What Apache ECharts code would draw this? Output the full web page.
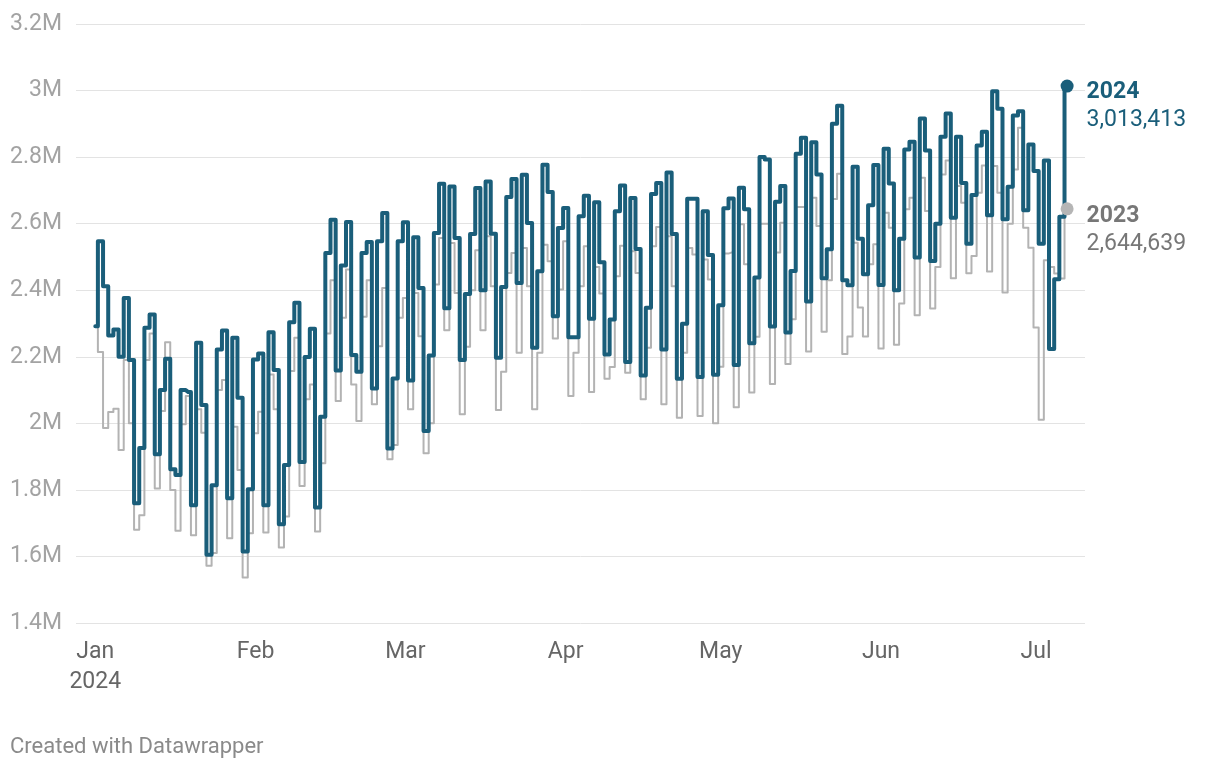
<!DOCTYPE html>
<html>
<head>
<meta charset="utf-8">
<script src="https://cdn.jsdelivr.net/npm/echarts@6/dist/echarts.min.js"></script>
<style>
  html, body { margin: 0; padding: 0; background: #fff; }
  #chart { width: 1220px; height: 770px; }
</style>
</head>
<body>
<div id="chart"></div>
<script>
// Daily checkpoint numbers, in millions, Jan 1 – Jul 7 2024 (2023 aligned by weekday)
const jan2024 = [2.292, 2.547, 2.412, 2.264, 2.282, 2.200, 2.377, 2.190, 1.760, 1.926, 2.287, 2.327, 1.907, 2.100, 2.194, 1.862, 1.845, 2.100, 2.094, 1.754, 2.242, 2.055, 1.605, 1.814, 2.222, 2.279, 1.775, 2.257, 2.077, 1.615, 1.802];
const feb2024 = [2.192, 2.210, 1.754, 2.274, 2.160, 1.697, 1.875, 2.304, 2.362, 1.884, 2.199, 2.284, 1.747, 2.020, 2.512, 2.612, 2.159, 2.474, 2.605, 2.205, 2.155, 2.512, 2.545, 2.105, 2.547, 2.632, 1.924, 2.135, 2.547];
const mar2024 = [2.604, 2.129, 2.559, 2.407, 1.977, 2.204, 2.572, 2.720, 2.346, 2.712, 2.557, 2.190, 2.389, 2.569, 2.707, 2.400, 2.727, 2.570, 2.197, 2.410, 2.680, 2.734, 2.422, 2.747, 2.602, 2.227, 2.457, 2.777, 2.695, 2.322, 2.587];
const apr2024 = [2.647, 2.259, 2.259, 2.622, 2.684, 2.314, 2.664, 2.484, 2.207, 2.312, 2.637, 2.715, 2.184, 2.677, 2.524, 2.144, 2.347, 2.689, 2.722, 2.222, 2.754, 2.569, 2.134, 2.299, 2.675, 2.675, 2.139, 2.637, 2.506, 2.146];
const may2024 = [2.355, 2.646, 2.676, 2.175, 2.708, 2.643, 2.241, 2.438, 2.800, 2.793, 2.291, 2.666, 2.713, 2.273, 2.458, 2.810, 2.858, 2.366, 2.845, 2.748, 2.436, 2.523, 2.900, 2.954, 2.430, 2.415, 2.771, 2.555, 2.448, 2.655, 2.776];
const jun2024 = [2.416, 2.825, 2.721, 2.400, 2.555, 2.823, 2.846, 2.498, 2.916, 2.820, 2.488, 2.600, 2.861, 2.931, 2.618, 2.861, 2.722, 2.540, 2.686, 2.835, 2.876, 2.625, 2.998, 2.945, 2.613, 2.711, 2.925, 2.938, 2.640, 2.838];
const jul2024 = [2.758, 2.540, 2.790, 2.223, 2.433, 2.621, 3.013413];

const jan2023 = [2.29, 2.214, 1.986, 2.034, 2.044, 1.92, 2.19, 2.0, 1.68, 1.724, 2.19, 2.27, 1.804, 2.037, 2.244, 1.80, 1.677, 1.997, 2.082, 1.664, 2.042, 1.972, 1.572, 1.61, 2.10, 2.13, 1.655, 1.99, 1.86, 1.537, 1.67];
const feb2023 = [1.97, 2.035, 1.672, 2.147, 2.042, 1.627, 1.72, 2.157, 2.257, 1.812, 2.072, 2.117, 1.675, 1.88, 2.27, 2.43, 2.067, 2.317, 2.462, 2.117, 2.007, 2.32, 2.43, 2.057, 2.232, 2.407, 1.892, 1.935, 2.317];
const mar2023 = [2.377, 2.042, 2.392, 2.262, 1.91, 2.0, 2.417, 2.557, 2.28, 2.542, 2.392, 2.027, 2.23, 2.40, 2.52, 2.28, 2.562, 2.412, 2.04, 2.155, 2.452, 2.512, 2.212, 2.527, 2.412, 2.042, 2.212, 2.537, 2.487, 2.255, 2.402];
const apr2023 = [2.547, 2.082, 2.212, 2.412, 2.532, 2.094, 2.47, 2.39, 2.134, 2.169, 2.442, 2.534, 2.152, 2.517, 2.452, 2.072, 2.227, 2.532, 2.59, 2.057, 2.562, 2.412, 2.017, 2.212, 2.527, 2.507, 2.022, 2.492, 2.432, 2.0];
const may2023 = [2.17, 2.51, 2.513, 2.048, 2.598, 2.478, 2.093, 2.26, 2.60, 2.60, 2.118, 2.513, 2.603, 2.178, 2.313, 2.65, 2.65, 2.216, 2.678, 2.593, 2.275, 2.43, 2.674, 2.75, 2.208, 2.261, 2.543, 2.348, 2.261, 2.478, 2.538];
const jun2023 = [2.225, 2.633, 2.588, 2.236, 2.36, 2.643, 2.678, 2.325, 2.738, 2.638, 2.345, 2.47, 2.748, 2.79, 2.436, 2.713, 2.663, 2.451, 2.503, 2.693, 2.775, 2.456, 2.773, 2.693, 2.393, 2.60, 2.763, 2.888, 2.588, 2.528];
const jul2023 = [2.288, 2.011, 2.49, 2.47, 2.45, 2.435, 2.644639];

const monthTicks = [0, 31, 60, 91, 121, 152, 182];
const monthLabels = ['Jan\n2024', 'Feb', 'Mar', 'Apr', 'May', 'Jun', 'Jul'];
const seriesNames = ['2024', '2023'];

const s2024 = [].concat(jan2024, feb2024, mar2024, apr2024, may2024, jun2024, jul2024).map(v => Math.round(v * 1e6));
const s2023 = [].concat(jan2023, feb2023, mar2023, apr2023, may2023, jun2023, jul2023).map(v => Math.round(v * 1e6));

const BLUE = '#1a5e7a';
const GREY_LINE = '#b3b3b3';
const GREY_DOT = '#b5b5b5';
const GREY_TEXT = '#777777';
const FONT = 'Roboto, "Noto Sans", sans-serif';

const toPairs = arr => arr.map((v, i) => [i, v]);
const last = arr => [arr.length - 1, arr[arr.length - 1]];
const fmt = n => n.toLocaleString('en-US');

const chart = echarts.init(document.getElementById('chart'), null, { renderer: 'canvas' });
chart.setOption({
  animation: false,
  backgroundColor: '#ffffff',
  textStyle: { fontFamily: FONT },
  grid: { left: 76, right: 135, top: 24, bottom: 147, containLabel: false },
  xAxis: {
    type: 'value',
    min: -3.733,
    max: 191.462,
    axisLine: { show: false },
    axisTick: { show: false },
    splitLine: { show: false },
    axisLabel: {
      customValues: monthTicks,
      formatter: v => monthLabels[monthTicks.indexOf(Math.round(v))] || '',
      color: '#666666',
      fontSize: 23,
      lineHeight: 30,
      margin: 14,
      fontFamily: FONT
    }
  },
  yAxis: {
    type: 'value',
    min: 1400000,
    max: 3200000,
    interval: 200000,
    axisLine: { show: false },
    axisTick: { show: false },
    splitLine: { lineStyle: { color: '#e3e3e3', width: 1 } },
    axisLabel: {
      formatter: v => (Math.round(v / 1e5) / 10) + 'M',
      color: '#a3a3a3',
      fontSize: 23,
      margin: 14,
      fontFamily: FONT
    }
  },
  series: [
    {
      name: seriesNames[1],
      type: 'line',
      step: 'middle',
      data: toPairs(s2023),
      showSymbol: false,
      lineStyle: { color: GREY_LINE, width: 2, join: 'round' },
      z: 2,
      silent: true
    },
    {
      name: seriesNames[0],
      type: 'line',
      step: 'middle',
      data: toPairs(s2024),
      showSymbol: false,
      lineStyle: { color: BLUE, width: 4, join: 'round', cap: 'round' },
      z: 3,
      silent: true
    },
    {
      type: 'scatter',
      data: [last(s2023)],
      symbol: 'circle',
      symbolSize: 13,
      itemStyle: { color: GREY_DOT, opacity: 1 },
      z: 4,
      silent: true,
      label: {
        show: true,
        position: 'right',
        distance: 13,
        offset: [0, 21],
        formatter: p => '{a|' + seriesNames[1] + '}\n{b|' + fmt(p.value[1]) + '}',
        rich: {
          a: { fontSize: 23, fontWeight: 'bold', color: GREY_TEXT, lineHeight: 28, fontFamily: FONT },
          b: { fontSize: 23, color: GREY_TEXT, lineHeight: 28, fontFamily: FONT }
        }
      }
    },
    {
      type: 'scatter',
      data: [last(s2024)],
      symbol: 'circle',
      symbolSize: 13,
      itemStyle: { color: BLUE, opacity: 1 },
      z: 5,
      silent: true,
      label: {
        show: true,
        position: 'right',
        distance: 13,
        offset: [0, 20],
        formatter: p => '{a|' + seriesNames[0] + '}\n{b|' + fmt(p.value[1]) + '}',
        rich: {
          a: { fontSize: 23, fontWeight: 'bold', color: BLUE, lineHeight: 28, fontFamily: FONT },
          b: { fontSize: 23, color: BLUE, lineHeight: 28, fontFamily: FONT }
        }
      }
    }
  ],
  graphic: [
    {
      type: 'text',
      left: 10,
      top: 736,
      style: { text: 'Created with Datawrapper', fill: '#8a8a8a', fontSize: 22, fontFamily: FONT }
    }
  ]
});
</script>
</body>
</html>
